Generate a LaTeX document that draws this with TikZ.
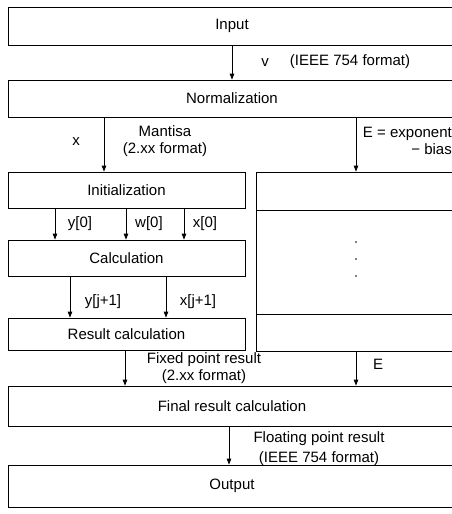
\documentclass[tikz,border=0pt]{standalone}
\usepackage{fontspec}
\setmainfont{Liberation Sans}
\usetikzlibrary{arrows.meta,positioning,calc}

\begin{document}
\begin{tikzpicture}[
    x=1pt, y=-1pt,
    font=\fontsize{15}{17}\selectfont,
    >={Triangle[length=6pt,width=4.5pt]},
    flow/.style={->, line width=0.8pt},
    block/.style={
        draw,
        line width=0.8pt,
        inner sep=0pt,
        align=center
    },
    wide/.style={
        block,
        minimum width=448
    },
    column/.style={
        block,
        minimum width=237
    },
    side/.style={
        block,
        minimum width=200
    },
    edgeLabel/.style={
        inner sep=1pt,
        align=center
    }
]
\useasboundingbox (0,0) rectangle (452,514);
\clip (0,0) rectangle (452,514);

% main chain
\node[wide, minimum height=38] (input) at (232,26) {Input};
\node[wide, minimum height=37] (norm) at (232,98.5) {Normalization};

% mantissa path
\node[column, minimum height=36] (init) at (126.5,190) {Initialization};
\node[column, minimum height=36] (calc) at (126.5,258) {Calculation};
\node[column, minimum height=32] (result) at (126.5,334) {Result calculation};

% exponent path
\node[side, minimum height=38] (eupper) at (356,191) {};
\node[side, minimum height=104] (emid) at (356,262) {};
\node[side, minimum height=37] (elower) at (356,332.5) {};
\foreach \dy in {-14,3,20}
    \fill ([yshift=\dy]emid.center) circle (0.9);

% fusion and output
\node[wide, minimum height=40] (final) at (232,406) {Final result calculation};
\node[wide, minimum height=42] (output) at (232,486) {Output};

% connector ends
\coordinate (mant) at ([xshift=-22.5]init.north);
\coordinate (y0in) at ([xshift=-71.5]calc.north);
\coordinate (w0in) at ([xshift=-0.5]calc.north);
\coordinate (x0in) at ([xshift=57.5]calc.north);
\coordinate (yjin) at ([xshift=-56.5]result.north);
\coordinate (xjin) at ([xshift=39.5]result.north);
\coordinate (fixin) at ([xshift=-107]final.north);
\coordinate (outin) at ([xshift=-3]output.north);

% data flow
\draw[flow] (input) -- (norm);
\draw[flow] (norm.south -| mant) -- (mant);
\draw[flow] (norm.south -| eupper.north) -- (eupper.north);
\draw[flow] (init.south -| y0in) -- (y0in);
\draw[flow] (init.south -| w0in) -- (w0in);
\draw[flow] (init.south -| x0in) -- (x0in);
\draw[flow] (calc.south -| yjin) -- (yjin);
\draw[flow] (calc.south -| xjin) -- (xjin);
\draw[flow] (result.south -| fixin) -- (fixin);
\draw[flow] (elower.south) -- (elower.south |- final.north);
\draw[flow] (final.south -| outin) -- (outin);

% labels
\node[edgeLabel] (lv) at (265,63) {v};
\node[edgeLabel] (lvfmt) at (350,62) {(IEEE 754 format)};
\node[edgeLabel] (lx) at (76,142) {x};
\node[edgeLabel] (lmant) at (165,141) {Mantisa\\(2.xx format)};
\node[edgeLabel, align=right, anchor=east] (lexp) at (453,141) {E = exponent\\− bias};
\node[edgeLabel] (ly0) at (80,224) {y[0]};
\node[edgeLabel] (lw0) at (149,224) {w[0]};
\node[edgeLabel] (lx0) at (205,224) {x[0]};
\node[edgeLabel] (lyj) at (103,302) {y[j+1]};
\node[edgeLabel] (lxj) at (198,302) {x[j+1]};
\node[edgeLabel] (lfix) at (204,368) {Fixed point result\\(2.xx format)};
\node[edgeLabel] (le) at (378,364) {E};
\node[edgeLabel] (lfloat) at (319,449) {Floating point result\\[3pt](IEEE 754 format)};

\end{tikzpicture}
\end{document}
